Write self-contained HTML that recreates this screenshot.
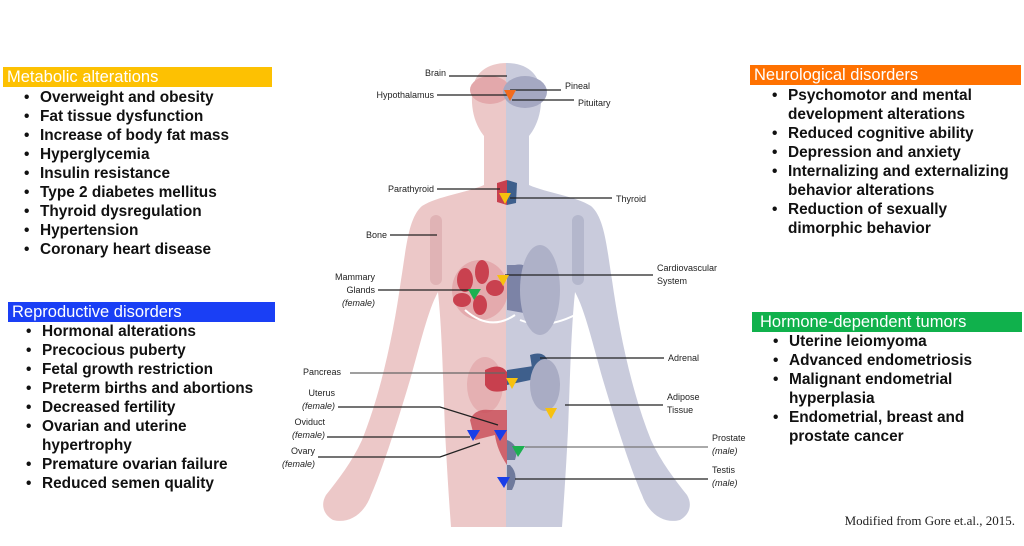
<!DOCTYPE html>
<html><head><meta charset="utf-8"><style>
*{margin:0;padding:0;box-sizing:border-box}
body{width:1024px;height:546px;background:#fff;position:relative;overflow:hidden;font-family:"Liberation Sans",Arial,sans-serif}
.hd{position:absolute;height:20px;color:#fff;font-size:16.5px;line-height:20px;padding-left:4px}
.ls{position:absolute;font-weight:bold;font-size:15.4px;line-height:19px;color:#111}
.ls div{position:relative;padding-left:0;white-space:nowrap}
.ls div:before{content:"•";position:absolute;left:-16px}
svg{position:absolute;left:0;top:0}
svg text{font-family:"Liberation Sans",Arial,sans-serif;font-size:9px;fill:#222}
</style></head><body>
<svg width="1024" height="546" viewBox="0 0 1024 546">
<defs>
<path id="half" d="M507,63 C488,63 473,72 472,94 C471,112 476,126 484,136 L484,185 C466,193 438,196 422,206 C408,218 406,250 401,280 C394,330 382,390 362,440 C352,462 338,480 326,495 C320,505 324,515 333,520 C348,524 364,515 371,495 C384,465 398,420 410,380 C420,345 428,310 438,292 C442,330 443,380 445,430 C447,470 449,500 451,527 L507,527 Z"/>
</defs>
<use href="#half" fill="#ecc8c8"/>
<g transform="translate(1013,0) scale(-1,1)"><use href="#half" fill="#c9cbdc"/></g>
<ellipse cx="490" cy="90" rx="20" ry="14" fill="#e3a8ab"/>
<ellipse cx="525" cy="92" rx="22" ry="16" fill="#a5a8c2"/>
<path d="M497,183 L507,180 L507,205 L497,202Z" fill="#c8404e"/>
<path d="M507,180 L517,183 L516,203 L507,205Z" fill="#3e5f8c"/>
<rect x="430" y="215" width="12" height="70" rx="6" fill="#e0b3b5"/>
<rect x="572" y="215" width="12" height="70" rx="6" fill="#b4b7cc"/>
<ellipse cx="480" cy="290" rx="28" ry="30" fill="#e4aaad"/>
<g fill="#c9414f"><ellipse cx="465" cy="280" rx="8" ry="12"/><ellipse cx="482" cy="272" rx="7" ry="12"/><ellipse cx="495" cy="288" rx="9" ry="8"/><ellipse cx="462" cy="300" rx="9" ry="7"/><ellipse cx="480" cy="305" rx="7" ry="10"/></g>
<path d="M465,310 Q490,332 515,315" stroke="#fff" stroke-width="2" fill="none"/>
<path d="M520,320 Q545,330 575,315" stroke="#fff" stroke-width="2" fill="none"/>
<path d="M515,265 C535,260 540,290 535,315 L507,310 L507,265Z" fill="#7c83a6"/>
<ellipse cx="540" cy="290" rx="20" ry="45" fill="#aeb1c8"/>
<ellipse cx="485" cy="385" rx="18" ry="28" fill="#e5b0b2"/>
<path d="M485,370 Q500,362 507,372 L507,390 Q490,395 485,385Z" fill="#c8404e"/>
<path d="M507,370 L540,365 L540,378 L507,385Z" fill="#3e5f8c"/>
<path d="M530,355 Q545,350 548,362 L532,368Z" fill="#3e5f8c"/>
<ellipse cx="545" cy="385" rx="15" ry="26" fill="#a9acc4"/>
<path d="M470,420 Q475,408 490,410 L507,410 L507,465 Q497,450 495,435 L475,440Z" fill="#c84a55" opacity=".8"/>
<path d="M507,440 Q520,445 515,460 L507,460Z" fill="#6f7a9c"/>
<path d="M510,465 Q520,475 512,490 L507,490 L507,465Z" fill="#6f7a9c"/>
<g stroke="#222" stroke-width="1.2" fill="none">
<line x1="449" y1="76" x2="507" y2="76"/>
<line x1="437" y1="95" x2="510" y2="95"/>
<line x1="510" y1="90" x2="561" y2="90"/>
<line x1="512" y1="100" x2="574" y2="100"/>
<line x1="437" y1="189" x2="500" y2="189"/>
<line x1="510" y1="198" x2="612" y2="198"/>
<line x1="390" y1="235" x2="437" y2="235"/>
<line x1="378" y1="290" x2="470" y2="290"/>
<line x1="505" y1="275" x2="653" y2="275"/>
<line x1="540" y1="358" x2="664" y2="358"/>
<line x1="350" y1="373" x2="505" y2="373" stroke="#666"/>
<polyline points="338,407 440,407 498,425"/>
<line x1="327" y1="437" x2="470" y2="437"/>
<polyline points="318,457 440,457 480,443"/>
<line x1="565" y1="405" x2="663" y2="405"/>
<line x1="525" y1="447" x2="708" y2="447" stroke="#777"/>
<line x1="515" y1="479" x2="708" y2="479"/>
</g>
<g>
<path d="M504,90 L516,90 L510,101Z" fill="#f26b1d"/>
<path d="M499,193 L511,193 L505,204Z" fill="#f7c10e"/>
<path d="M497,275 L509,275 L503,286Z" fill="#f7c10e"/>
<path d="M468,289 L481,289 L474,300Z" fill="#1cb050"/>
<path d="M506,378 L518,378 L512,389Z" fill="#f7c10e"/>
<path d="M545,408 L557,408 L551,419Z" fill="#f7c10e"/>
<path d="M467,430 L480,430 L473,441Z" fill="#1a3ee8"/>
<path d="M494,430 L507,430 L500,441Z" fill="#1a3ee8"/>
<path d="M512,446 L525,446 L518,457Z" fill="#1cb050"/>
<path d="M497,477 L510,477 L504,488Z" fill="#1a3ee8"/>
</g>
<text x="446" y="76" text-anchor="end">Brain</text>
<text x="434" y="98" text-anchor="end">Hypothalamus</text>
<text x="565" y="89">Pineal</text>
<text x="578" y="106">Pituitary</text>
<text x="434" y="192" text-anchor="end">Parathyroid</text>
<text x="616" y="202">Thyroid</text>
<text x="387" y="238" text-anchor="end">Bone</text>
<text x="375" y="280" text-anchor="end">Mammary</text>
<text x="375" y="293" text-anchor="end">Glands</text>
<text x="375" y="306" text-anchor="end" font-style="italic">(female)</text>
<text x="657" y="271">Cardiovascular</text>
<text x="657" y="284">System</text>
<text x="668" y="361">Adrenal</text>
<text x="303" y="375">Pancreas</text>
<text x="335" y="396" text-anchor="end">Uterus</text>
<text x="335" y="409" text-anchor="end" font-style="italic">(female)</text>
<text x="325" y="425" text-anchor="end">Oviduct</text>
<text x="325" y="438" text-anchor="end" font-style="italic">(female)</text>
<text x="315" y="454" text-anchor="end">Ovary</text>
<text x="315" y="467" text-anchor="end" font-style="italic">(female)</text>
<text x="667" y="400">Adipose</text>
<text x="667" y="413">Tissue</text>
<text x="712" y="441">Prostate</text>
<text x="712" y="454" font-style="italic">(male)</text>
<text x="712" y="473">Testis</text>
<text x="712" y="486" font-style="italic">(male)</text>
<text x="1015" y="525" text-anchor="end" style="font-family:'Liberation Serif',serif;font-size:13px">Modified from Gore et.al., 2015.</text>
</svg>

<div class="hd" style="left:3px;top:67px;width:269px;background:#fdc102">Metabolic alterations</div>
<div class="ls" style="left:40px;top:88px">
<div>Overweight and obesity</div><div>Fat tissue dysfunction</div><div>Increase of body fat mass</div><div>Hyperglycemia</div><div>Insulin resistance</div><div>Type 2 diabetes mellitus</div><div>Thyroid dysregulation</div><div>Hypertension</div><div>Coronary heart disease</div>
</div>

<div class="hd" style="left:8px;top:302px;width:267px;background:#1a3ff5">Reproductive disorders</div>
<div class="ls" style="left:42px;top:322px">
<div>Hormonal alterations</div><div>Precocious puberty</div><div>Fetal growth restriction</div><div>Preterm births and abortions</div><div>Decreased fertility</div><div>Ovarian and uterine<br>hypertrophy</div><div>Premature ovarian failure</div><div>Reduced semen quality</div>
</div>

<div class="hd" style="left:750px;top:65px;width:271px;background:#ff7100">Neurological disorders</div>
<div class="ls" style="left:788px;top:86px">
<div>Psychomotor and mental<br>development alterations</div><div>Reduced cognitive ability</div><div>Depression and anxiety</div><div>Internalizing and externalizing<br>behavior alterations</div><div>Reduction of sexually<br>dimorphic behavior</div>
</div>

<div class="hd" style="left:752px;top:312px;width:270px;background:#10b14c;padding-left:8px">Hormone-dependent tumors</div>
<div class="ls" style="left:789px;top:332px">
<div>Uterine leiomyoma</div><div>Advanced endometriosis</div><div>Malignant endometrial<br>hyperplasia</div><div>Endometrial, breast and<br>prostate cancer</div>
</div>
</body></html>
